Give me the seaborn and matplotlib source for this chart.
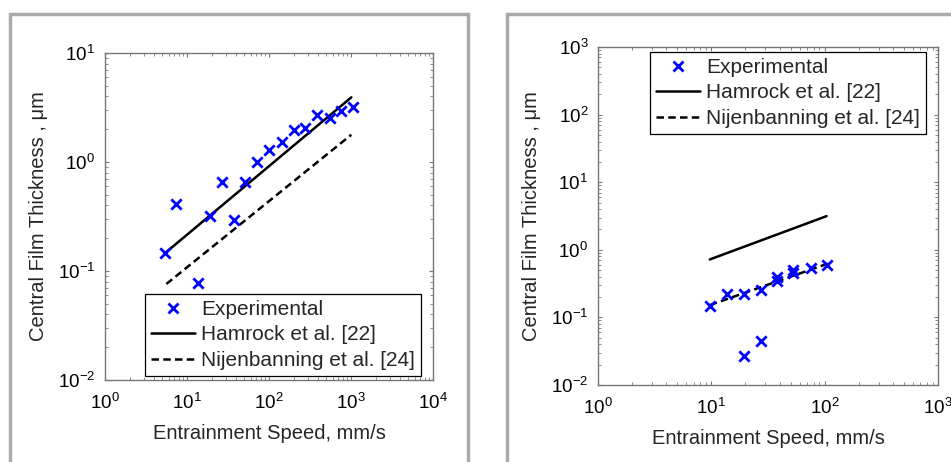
import numpy as np
import pandas as pd
import matplotlib
matplotlib.use("Agg")
import matplotlib.pyplot as plt
import seaborn as sns
from matplotlib.patches import Rectangle
from matplotlib.lines import Line2D
from matplotlib.ticker import LogLocator, NullFormatter

# ---- data: left panel ----
left_exp_speed = [5.4, 7.3, 13.6, 19.3, 26.7, 37.8, 51.4, 70.7, 100, 143, 200, 275, 389, 550, 757, 1060]
left_exp_thick = [0.146, 0.41, 0.077, 0.32, 0.65, 0.295, 0.65, 1.0, 1.30, 1.53, 1.98, 2.05, 2.70, 2.55, 2.95, 3.17]
left_ham_speed = [5.4, 1010]
left_ham_thick = [0.146, 3.92]
left_nij_speed = [5.6, 1010]
left_nij_thick = [0.076, 1.78]

# ---- data: right panel ----
right_exp_speed = [9.7, 13.8, 19.5, 19.5, 27.2, 27.2, 37.7, 37.7, 53, 53, 75.4, 104]
right_exp_thick = [0.147, 0.219, 0.221, 0.0265, 0.253, 0.045, 0.40, 0.344, 0.51, 0.46, 0.54, 0.59]
right_ham_speed = [9.7, 104]
right_ham_thick = [0.72, 3.15]
right_nij_speed = [9.7, 108]
right_nij_thick = [0.152, 0.63]

legend_labels = ["Experimental", "Hamrock et al. [22]", "Nijenbanning et al. [24]"]
x_label = "Entrainment Speed, mm/s"
y_label = "Central Film Thickness , \u03bcm"

sns.set_style("white")
plt.rcParams['font.family'] = ['Liberation Sans', 'DejaVu Sans']
plt.rcParams['mathtext.fontset'] = 'custom'
plt.rcParams['mathtext.rm'] = 'Liberation Sans'
plt.rcParams['mathtext.it'] = 'Liberation Sans'

W, H = 951, 462
fig = plt.figure(figsize=(W / 100, H / 100), dpi=100)
fig.patch.set_facecolor('white')

def ax_rect(l, r, t, b):
    return [l / W, 1 - b / H, (r - l) / W, (b - t) / H]

axL = fig.add_axes(ax_rect(105, 433, 53, 380))
axR = fig.add_axes(ax_rect(598, 938, 47, 385))

FS_TICK = 13.5
FS_LAB = 14.5
FS_LEG = 15.0
BLUE = (0, 0, 1)

def draw(ax, xs, ys, hx, hy, nx, ny):
    sns.lineplot(x=hx, y=hy, ax=ax, color='black', lw=1.8, legend=False)
    sns.lineplot(x=nx, y=ny, ax=ax, color='black', lw=1.8, legend=False)
    ax.lines[-1].set_dashes([3.0, 1.7])
    sns.scatterplot(x=xs, y=ys, ax=ax, marker='x', color=BLUE, s=55, linewidth=2.0, legend=False, zorder=5)
    ax.set_xscale('log')
    ax.set_yscale('log')
    for sp in ax.spines.values():
        sp.set_color('#777777')
        sp.set_linewidth(1.0)
    ax.tick_params(which='both', direction='in', top=True, right=True, bottom=True, left=True,
                   colors='#777777', labelcolor='black', labelsize=FS_TICK)
    ax.tick_params(which='major', length=3, width=0.8)
    ax.tick_params(which='minor', length=2, width=0.6)
    ax.xaxis.set_major_locator(LogLocator(base=10, numticks=20))
    ax.yaxis.set_major_locator(LogLocator(base=10, numticks=20))
    ax.xaxis.set_minor_locator(LogLocator(base=10, subs=np.arange(2, 10), numticks=50))
    ax.yaxis.set_minor_locator(LogLocator(base=10, subs=np.arange(2, 10), numticks=50))
    ax.xaxis.set_minor_formatter(NullFormatter())
    ax.yaxis.set_minor_formatter(NullFormatter())
    ax.tick_params(axis='x', which='major', pad=9)
    ax.tick_params(axis='y', which='major', pad=7)
    ax.set_xlabel(x_label, fontsize=FS_LAB, labelpad=8)
    ax.set_ylabel(y_label, fontsize=FS_LAB, labelpad=7)
    ax.grid(False)

draw(axL, left_exp_speed, left_exp_thick, left_ham_speed, left_ham_thick, left_nij_speed, left_nij_thick)
axL.set_xlim(1, 1e4)
axL.set_ylim(1e-2, 1e1)

draw(axR, right_exp_speed, right_exp_thick, right_ham_speed, right_ham_thick, right_nij_speed, right_nij_thick)
axR.set_xlim(1, 1e3)
axR.set_ylim(1e-2, 1e3)

handles = [
    Line2D([], [], ls='none', marker='x', color=BLUE, markersize=7.5, mew=2.0),
    Line2D([], [], color='black', lw=1.8),
    Line2D([], [], color='black', lw=1.8, dashes=[3.0, 1.7]),
]

def legend(ax, loc, anchor):
    lg = ax.legend(handles, legend_labels, loc=loc, bbox_to_anchor=anchor, fontsize=FS_LEG,
                   frameon=True, fancybox=False, edgecolor='black', framealpha=1,
                   handlelength=2.1, handletextpad=0.3, labelspacing=0.32, borderpad=0.28,
                   borderaxespad=0)
    lg.get_frame().set_linewidth(0.9)
    return lg

legend(axL, 'lower right', ((421 - 105) / (433 - 105), (380 - 376) / (380 - 53)))
legend(axR, 'upper right', ((926 - 598) / (938 - 598), 1 - (52 - 47) / (385 - 47)))

# panel frames
fig.patches.append(Rectangle((9.5 / W, -0.1), (467.5 - 9.5) / W, 1.1 - 14 / H, transform=fig.transFigure,
                             fill=False, edgecolor='#aaaaaa', lw=2.5, zorder=0))
fig.patches.append(Rectangle((506.5 / W, -0.1), 0.6, 1.1 - 14 / H, transform=fig.transFigure,
                             fill=False, edgecolor='#aaaaaa', lw=2.5, zorder=0))

fig.savefig('out.png', dpi=100)
